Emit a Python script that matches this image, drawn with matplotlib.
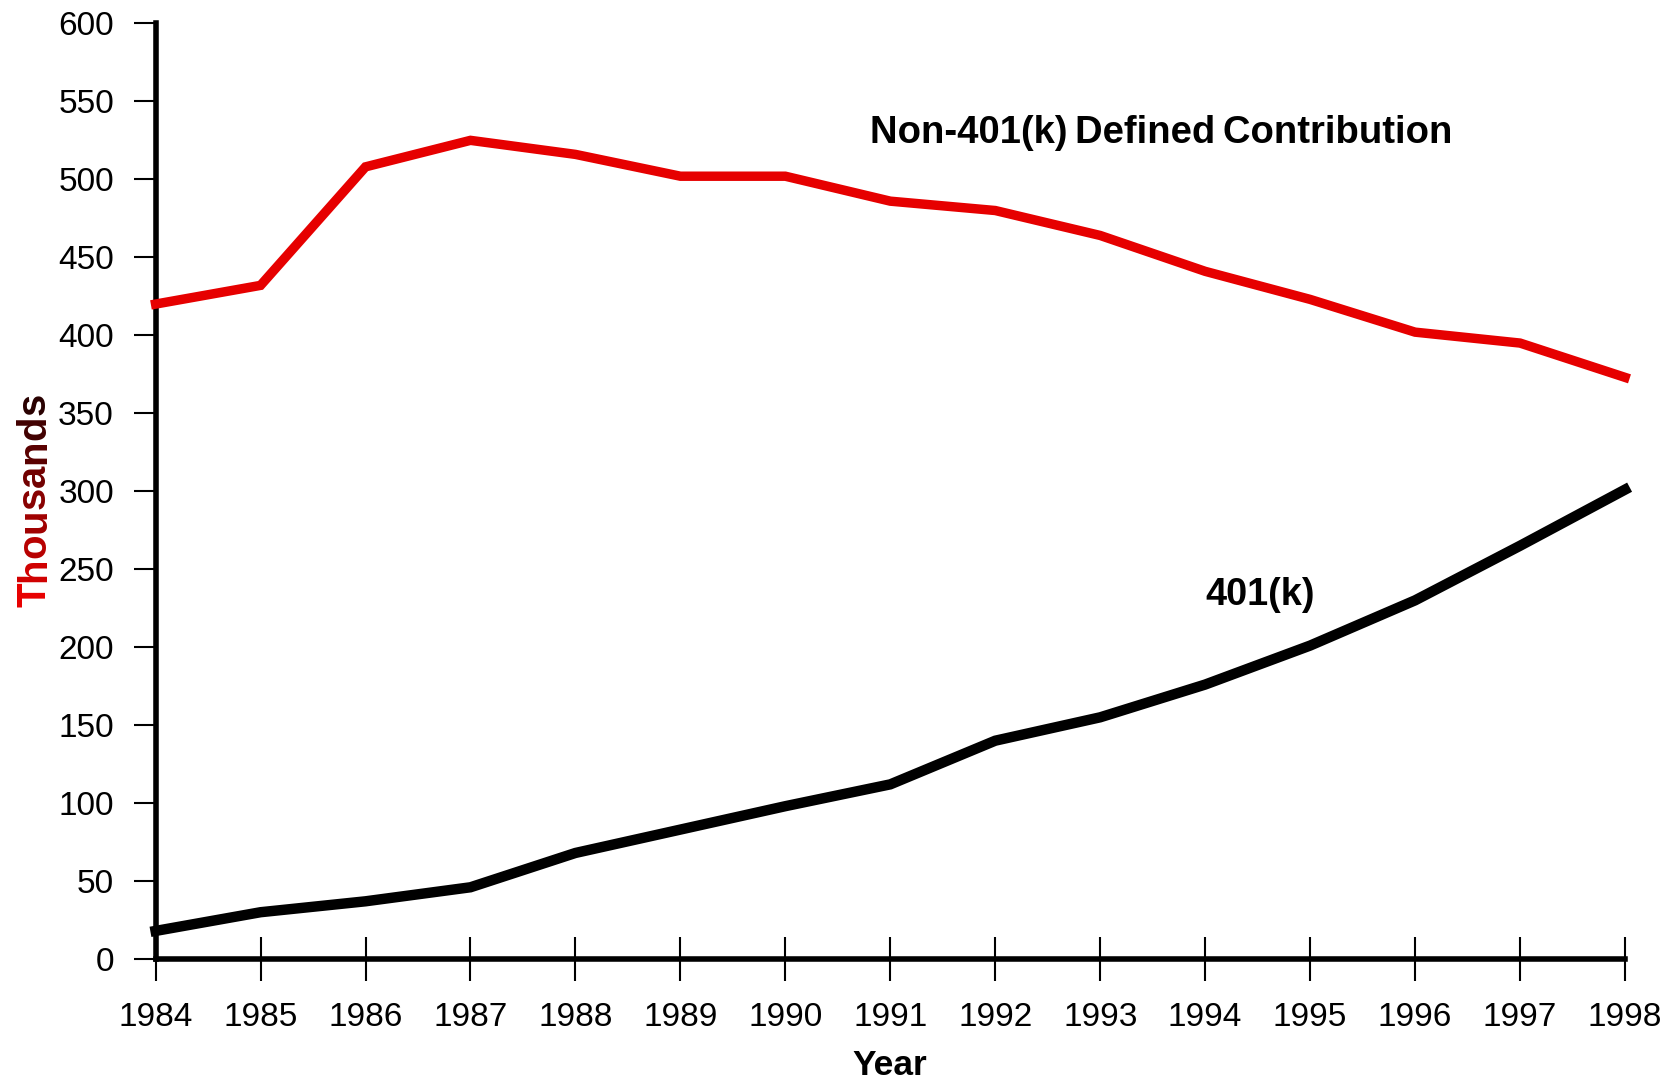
import matplotlib
matplotlib.use("Agg")
import matplotlib.pyplot as plt
from matplotlib.font_manager import FontProperties

years = list(range(1984, 1999))
non401k = [420, 432, 508, 525, 516, 502, 502, 486, 480, 464, 441, 423, 402, 395, 373]
k401 = [18, 30, 37, 46, 68, 83, 98, 112, 140, 155, 176, 201, 230, 265, 301]
yticks = list(range(0, 601, 50))

W, H = 1671, 1083
plt.rcParams['font.family'] = ['Liberation Sans', 'DejaVu Sans']
fig = plt.figure(figsize=(W / 100, H / 100), dpi=100)
ax = fig.add_axes([155.6 / W, 1 - 959 / H, (1625 - 155.6) / W, (959 - 23.4) / H])

ax.plot(years, non401k, color='#E60000', lw=6.8, solid_joinstyle='miter', clip_on=False, zorder=3)
ax.plot(years, k401, color='black', lw=7.5, solid_joinstyle='miter', clip_on=False, zorder=3)

ax.set_xlim(1984, 1998)
ax.set_ylim(0, 600)
ax.set_xticks(years)
ax.set_yticks(yticks)
for s in ['top', 'right']:
    ax.spines[s].set_visible(False)
for s in ['left', 'bottom']:
    ax.spines[s].set_linewidth(4)
ax.tick_params(axis='y', direction='out', length=16, width=1.5, pad=14, labelsize=24)
ax.tick_params(axis='x', direction='inout', length=32, width=1.5, pad=15, labelsize=24)

fig.text(889.5 / W, 1 - 1075 / H, 'Year', ha='center', va='baseline',
         fontsize=25.5, fontweight='bold')

ax.text(1990.81, 523, 'Non-401(k)\u2009Defined\u2009Contribution', ha='left', va='baseline',
        fontsize=27.5, fontweight='bold')
ax.text(1994.0, 227, '401(k)', ha='left', va='baseline', fontsize=27.3, fontweight='bold')

# Y label with red-to-dark gradient, letter by letter
label = 'Thousands'
renderer = fig.canvas.get_renderer()
base = FontProperties(family=['Liberation Sans', 'DejaVu Sans'], weight='bold', size=28)
tw, _, _ = renderer.get_text_width_height_descent(label, base, ismath=False)
size = 28 * 214 / tw
prop = FontProperties(family=['Liberation Sans', 'DejaVu Sans'], weight='bold', size=size)
xb, y0 = 45, 476
c0 = (0.91, 0.0, 0.0)
c1 = (0.16, 0.0, 0.0)
n = len(label)
for i, ch in enumerate(label):
    w = renderer.get_text_width_height_descent(label[:i], prop, ismath=False)[0] if i else 0
    t = i / (n - 1)
    col = tuple(a + (b - a) * t for a, b in zip(c0, c1))
    fig.text(xb / W, (y0 + w) / H, ch, rotation=90, rotation_mode='anchor',
             ha='left', va='baseline', fontproperties=prop, color=col)

fig.savefig('out.png', dpi=100)
